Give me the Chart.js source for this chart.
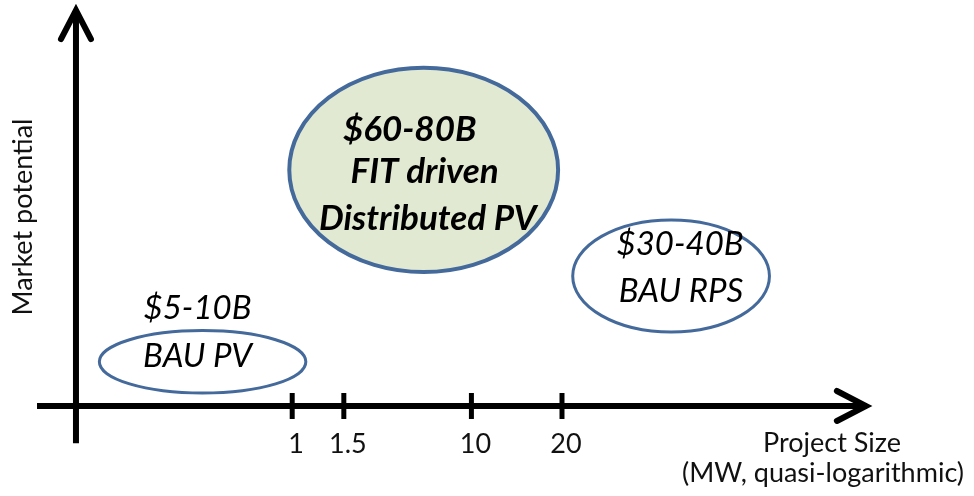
<!DOCTYPE html>
<html>
<head>
<meta charset="utf-8">
<script src="https://cdn.jsdelivr.net/npm/chart.js@4.4.1/dist/chart.umd.min.js"></script>
<style>
html, body { margin: 0; padding: 0; background: #fff; overflow: hidden; }
</style>
</head>
<body>
<canvas id="chart" width="974" height="496"></canvas>
<script>
// quasi-logarithmic project size axis: labels and where they sit on the axis
const tickLabels = ['1', '1.5', '10', '20'];
const tickPos = [2.22, 2.75, 4.06, 4.99];

// market segments (centre and half-size in axis units)
const segmentText = [
    ['$5-10B', 'BAU PV'],
    ['$60-80B', 'FIT driven', 'Distributed PV'],
    ['$30-40B', 'BAU RPS']
];
const segmentX = [1.30, 3.57, 6.11];
const segmentY = [0.89, 4.76, 2.62];
const segmentRx = [1.06, 1.38, 1.01];
const segmentRy = [0.63, 2.06, 1.13];

const xTitle = ['Project Size', '(MW, quasi-logarithmic)'];
const yTitle = 'Market potential';

// look
const edgeColor = '#44699b';
const fills = [null, '#e2e9d2', null];
const textStyle = [
    { font: 'italic 33px Lato', lines: [[-5, -53], [-5, -5]] },
    { font: 'italic bold 35px Lato', lines: [[-14, -40], [1, 2], [4, 49]] },
    { font: 'italic 33px Lato', lines: [[9, -32], [10, 15]] }
];

const axesPlugin = {
    id: 'conceptAxes',
    afterDatasetsDraw(chart) {
        const ctx = chart.ctx;
        const xs = chart.scales.x, ys = chart.scales.y;
        const meta = chart.getDatasetMeta(0);

        // segments
        meta.data.forEach((pt, i) => {
            const rx = Math.abs(xs.getPixelForValue(segmentRx[i]) - xs.getPixelForValue(0));
            const ry = Math.abs(ys.getPixelForValue(segmentRy[i]) - ys.getPixelForValue(0));
            ctx.save();
            ctx.beginPath();
            ctx.ellipse(pt.x, pt.y, rx, ry, 0, 0, Math.PI * 2);
            if (fills[i]) {
                ctx.fillStyle = fills[i];
                ctx.fill();
            }
            ctx.lineWidth = i === 1 ? 4 : 3;
            ctx.strokeStyle = edgeColor;
            ctx.stroke();
            ctx.fillStyle = '#000';
            ctx.font = textStyle[i].font;
            ctx.textAlign = 'center';
            ctx.textBaseline = 'middle';
            segmentText[i].forEach((t, j) => {
                const off = textStyle[i].lines[j];
                ctx.fillText(t, pt.x + off[0], pt.y + off[1]);
            });
            ctx.restore();
        });

        // axes with arrow heads
        const x0 = xs.getPixelForValue(0), y0 = ys.getPixelForValue(0);
        const xEnd = xs.getPixelForValue(8.11), xStart = xs.getPixelForValue(-0.40);
        const yEnd = ys.getPixelForValue(7.98), yStart = ys.getPixelForValue(-0.75);
        ctx.save();
        ctx.strokeStyle = '#000';
        ctx.lineWidth = 6;
        ctx.lineCap = 'butt';
        ctx.beginPath();
        ctx.moveTo(xStart, y0); ctx.lineTo(xEnd - 2, y0);
        ctx.moveTo(x0, yStart); ctx.lineTo(x0, yEnd + 2);
        ctx.stroke();
        ctx.lineCap = 'round';
        ctx.lineJoin = 'miter';
        ctx.beginPath();
        ctx.moveTo(xEnd - 29, y0 - 15); ctx.lineTo(xEnd, y0); ctx.lineTo(xEnd - 29, y0 + 15);
        ctx.moveTo(x0 - 15, yEnd + 29); ctx.lineTo(x0, yEnd); ctx.lineTo(x0 + 15, yEnd + 29);
        ctx.stroke();

        // ticks
        ctx.lineWidth = 5;
        ctx.lineCap = 'butt';
        ctx.fillStyle = '#111';
        ctx.font = '27px Lato';
        ctx.textAlign = 'center';
        ctx.textBaseline = 'middle';
        tickPos.forEach((v, i) => {
            const px = xs.getPixelForValue(v);
            ctx.beginPath();
            ctx.moveTo(px, y0 - 13); ctx.lineTo(px, y0 + 13);
            ctx.stroke();
            ctx.fillText(tickLabels[i], px + 4, y0 + 38);
        });

        // titles
        ctx.fillText(xTitle[0], 832, 443);
        ctx.fillText(xTitle[1], 823, 473);
        ctx.translate(23, 217);
        ctx.rotate(-Math.PI / 2);
        ctx.fillText(yTitle, 0, 0);
        ctx.restore();
    }
};

new Chart(document.getElementById('chart').getContext('2d'), {
    type: 'scatter',
    data: {
        datasets: [{
            data: segmentX.map((x, i) => ({ x: x, y: segmentY[i] })),
            pointRadius: 0,
            pointHoverRadius: 0
        }]
    },
    options: {
        responsive: false,
        animation: false,
        layout: { padding: 0 },
        plugins: { legend: { display: false }, tooltip: { enabled: false } },
        scales: {
            x: { type: 'linear', display: false, min: -0.78, max: 9.22 },
            y: { type: 'linear', display: false, min: -1.815, max: 8.185 }
        }
    },
    plugins: [axesPlugin]
});
</script>
</body>
</html>
